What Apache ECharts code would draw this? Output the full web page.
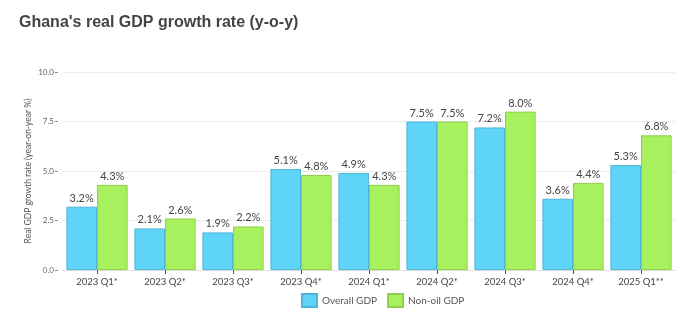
<!DOCTYPE html>
<html><head><meta charset="utf-8">
<script src="https://cdn.jsdelivr.net/npm/echarts@6/dist/echarts.min.js"></script>
<style>html,body{margin:0;padding:0;background:#fff}#c{width:696px;height:324px}</style>
</head><body><div id="c"></div>
<script>
const categories = ['2023 Q1*','2023 Q2*','2023 Q3*','2023 Q4*','2024 Q1*','2024 Q2*','2024 Q3*','2024 Q4*','2025 Q1**'];
const overallGDP = [3.2, 2.1, 1.9, 5.1, 4.9, 7.5, 7.2, 3.6, 5.3];
const nonOilGDP = [4.3, 2.6, 2.2, 4.8, 4.3, 7.5, 8.0, 4.4, 6.8];
const yTicks = [0, 2.5, 5, 7.5, 10];

const chart = echarts.init(document.getElementById('c'));
const labelStyle = {show:true, position:'top', distance:3, formatter: p => p.value.toFixed(1) + '%', color:'#444', fontSize:11, fontFamily:'Lato, sans-serif'};
chart.setOption({
  animation:false,
  title:{text:"Ghana's real GDP growth rate (y-o-y)", left:14, top:10, textStyle:{fontFamily:'Liberation Sans, Arial, sans-serif', fontWeight:'bold', fontSize:16, color:'#444'}},
  grid:{left:63, right:21, top:72, bottom:54},
  legend:{bottom:11, left:296, icon:'rect', itemWidth:15, itemHeight:13, itemGap:10, textStyle:{fontSize:10, color:'#555', fontFamily:'Lato, sans-serif'}, data:['Overall GDP','Non-oil GDP']},
  xAxis:{type:'category', data:categories,
    axisLine:{show:true, lineStyle:{color:'#ddd'}},
    axisTick:{show:true, alignWithLabel:true, length:4, lineStyle:{color:'#555'}},
    axisLabel:{color:'#444', fontSize:9.5, margin:7, fontFamily:'Lato, sans-serif'}},
  yAxis:{type:'value', min:yTicks[0], max:yTicks[yTicks.length-1], interval:2.5, offset:5,
    name:'Real GDP growth rate (year-on-year %)', nameLocation:'middle', nameGap:25, nameRotate:90, nameMoveOverlap:false,
    nameTextStyle:{fontSize:8.5, color:'#555', fontFamily:'Lato, sans-serif'},
    axisLine:{show:false},
    axisTick:{show:true, length:3, lineStyle:{color:'#888'}},
    axisLabel:{color:'#666', fontSize:8, margin:4, formatter: v => v.toFixed(1), fontFamily:'Lato, sans-serif'},
    splitLine:{lineStyle:{color:'#ececec'}}},
  series:[
    {name:'Overall GDP', type:'bar', data:overallGDP, barGap:'0%', barCategoryGap:'10%',
     itemStyle:{color:'#5fd4f9', borderColor:'#4fb5d6', borderWidth:1}, label:labelStyle},
    {name:'Non-oil GDP', type:'bar', data:nonOilGDP,
     itemStyle:{color:'#a7f05e', borderColor:'#8fcf4c', borderWidth:1}, label:labelStyle}
  ]
});
</script></body></html>
